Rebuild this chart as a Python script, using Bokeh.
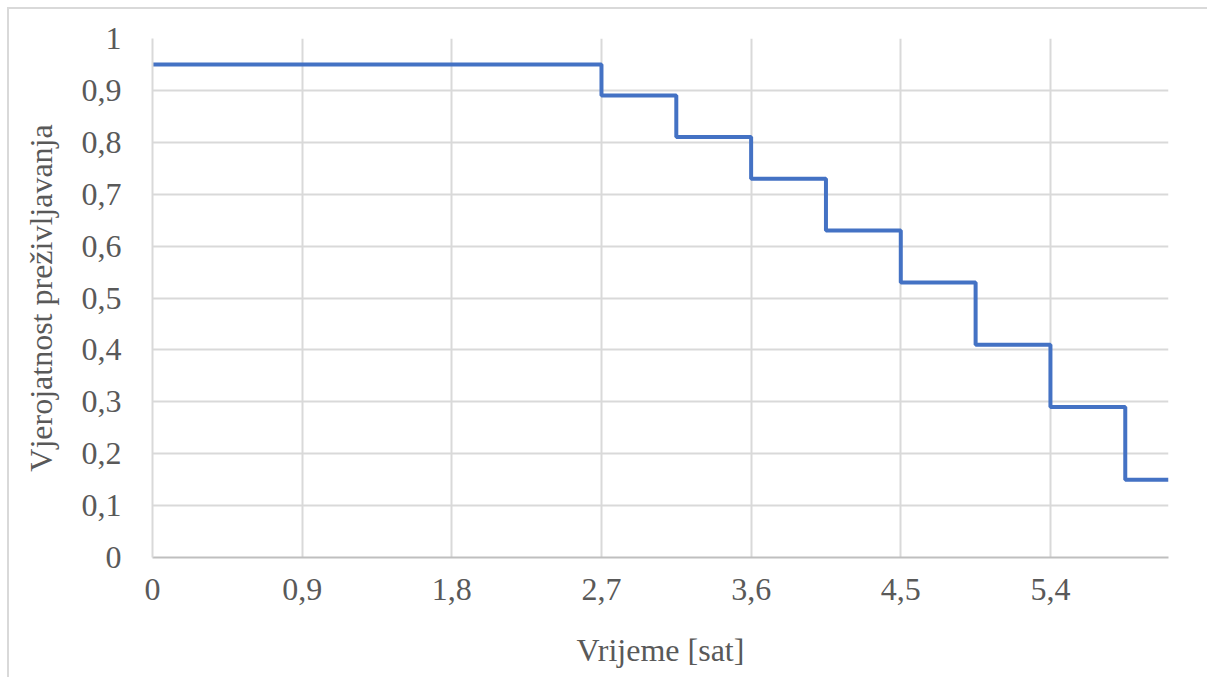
from bokeh.plotting import figure
from bokeh.models import Range1d, FixedTicker, CustomJSTickFormatter
from bokeh.embed import file_html
from bokeh.resources import INLINE

# data
time_h = [0, 2.7, 3.15, 3.6, 4.05, 4.5, 4.95, 5.4, 5.85, 6.11]
survival = [0.95, 0.89, 0.81, 0.73, 0.63, 0.53, 0.41, 0.29, 0.15, 0.15]
x_ticks = [0, 0.9, 1.8, 2.7, 3.6, 4.5, 5.4]
y_ticks = [0, 0.1, 0.2, 0.3, 0.4, 0.5, 0.6, 0.7, 0.8, 0.9, 1.0]
x_title = "Vrijeme [sat]"
y_title = "Vjerojatnost preživljavanja"

FONT = "Liberation Serif"

W, H = 1200, 670
p = figure(width=W, height=H, output_backend="svg", toolbar_location=None,
           x_range=Range1d(0, 6.11), y_range=Range1d(0, 1.0),
           min_border_left=143, min_border_right=41, min_border_top=29,
           min_border_bottom=122)
p.styles = {"border-top": "2px solid #d9d9d9", "border-left": "2px solid #d9d9d9",
            "margin-left": "7px", "margin-top": "7px"}
p.outline_line_color = None

p.step(time_h, survival, mode="after", line_color="#4472C4", line_width=4)

fmt = CustomJSTickFormatter(code="var s = (Math.round(tick*10)/10).toString(); return s.replace('.', ',');")

p.xaxis.ticker = FixedTicker(ticks=x_ticks)
p.yaxis.ticker = FixedTicker(ticks=y_ticks)
p.axis.formatter = fmt
p.axis.major_tick_line_color = None
p.axis.minor_tick_line_color = None
p.axis.major_label_text_font = FONT
p.axis.major_label_text_font_size = "32px"
p.axis.major_label_text_color = "#595959"
p.axis.axis_label_text_font = FONT
p.axis.axis_label_text_font_size = "32px"
p.axis.axis_label_text_color = "#595959"
p.axis.axis_label_text_font_style = "normal"

p.xaxis.axis_label = x_title
p.yaxis.axis_label = y_title
p.xaxis.axis_line_color = "#bfbfbf"
p.xaxis.axis_line_width = 2
p.yaxis.axis_line_color = "#d9d9d9"
p.yaxis.axis_line_width = 2
p.xaxis.major_label_standoff = 15
p.yaxis.major_label_standoff = 25
p.xaxis.axis_label_standoff = 29
p.yaxis.axis_label_standoff = 20

p.xgrid.ticker = FixedTicker(ticks=x_ticks)
p.ygrid.ticker = FixedTicker(ticks=y_ticks)
p.grid.grid_line_color = "#d9d9d9"
p.grid.grid_line_width = 2

open("out.html", "w").write(file_html(p, INLINE))
